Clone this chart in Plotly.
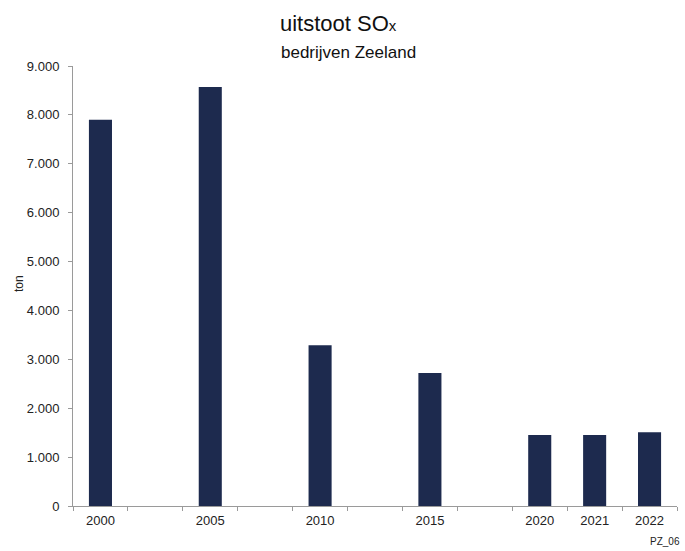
import plotly.graph_objects as go

# Slots on the category axis; blank slots leave gaps between the five-year steps
slots = ["2000", " ", "2005", "  ", "2010", "   ", "2015", "    ", "2020", "2021", "2022"]
years = ["2000", "2005", "2010", "2015", "2020", "2021", "2022"]
sox_ton = [7900, 8570, 3290, 2720, 1450, 1450, 1510]

bar_color = "#1d2a4e"
font_family = "Liberation Sans, Arial, sans-serif"

# plot area in pixels: x 73..677, y 66..506
PL, PR, PT, PB = 73, 677, 66, 506


def px(x):
    return (x - PL) / (PR - PL)


def py(y):
    return (PB - y) / (PB - PT)


fig = go.Figure(
    go.Bar(
        x=years,
        y=sox_ton,
        marker=dict(color=bar_color, line=dict(width=0)),
        width=0.42,
        hoverinfo="x+y",
    )
)

fig.update_layout(
    width=685,
    height=551,
    margin=dict(l=PL, r=685 - PR, t=PT, b=551 - PB),
    paper_bgcolor="white",
    plot_bgcolor="white",
    separators=",.",
    font=dict(family=font_family, color="#222222", size=13),
    showlegend=False,
    xaxis=dict(
        type="category",
        categoryorder="array",
        categoryarray=slots,
        range=[-0.5, len(slots) - 0.5],
        showgrid=False,
        showline=True,
        linecolor="#9a9a9a",
        linewidth=1,
        ticks="outside",
        tickson="boundaries",
        ticklen=4,
        tickcolor="#9a9a9a",
        tickfont=dict(size=13, color="#222222"),
        ticklabelstandoff=2,
        zeroline=False,
    ),
    yaxis=dict(
        range=[0, 9000],
        dtick=1000,
        tickformat=",d",
        showgrid=False,
        showline=True,
        linecolor="#9a9a9a",
        linewidth=1,
        ticks="outside",
        ticklen=4,
        tickcolor="#9a9a9a",
        tickfont=dict(size=13, color="#222222"),
        ticklabelstandoff=6,
        zeroline=False,
    ),
    annotations=[
        dict(
            text="uitstoot SO<span style='font-size:15px'>x</span>",
            xref="paper", yref="paper",
            x=px(338), y=py(23),
            xanchor="center", yanchor="middle",
            showarrow=False,
            font=dict(size=22, color="#111111"),
        ),
        dict(
            text="bedrijven Zeeland",
            xref="paper", yref="paper",
            x=px(348), y=py(52),
            xanchor="center", yanchor="middle",
            showarrow=False,
            font=dict(size=17, color="#111111"),
        ),
        dict(
            text="ton",
            xref="paper", yref="paper",
            x=px(19), y=py(284),
            xanchor="center", yanchor="middle",
            textangle=-90,
            showarrow=False,
            font=dict(size=12, color="#222222"),
        ),
        dict(
            text="PZ_06",
            xref="paper", yref="paper",
            x=px(682), y=py(541),
            xanchor="right", yanchor="middle",
            showarrow=False,
            font=dict(size=10, color="#222222"),
        ),
    ],
)

fig.write_html("out.html")
